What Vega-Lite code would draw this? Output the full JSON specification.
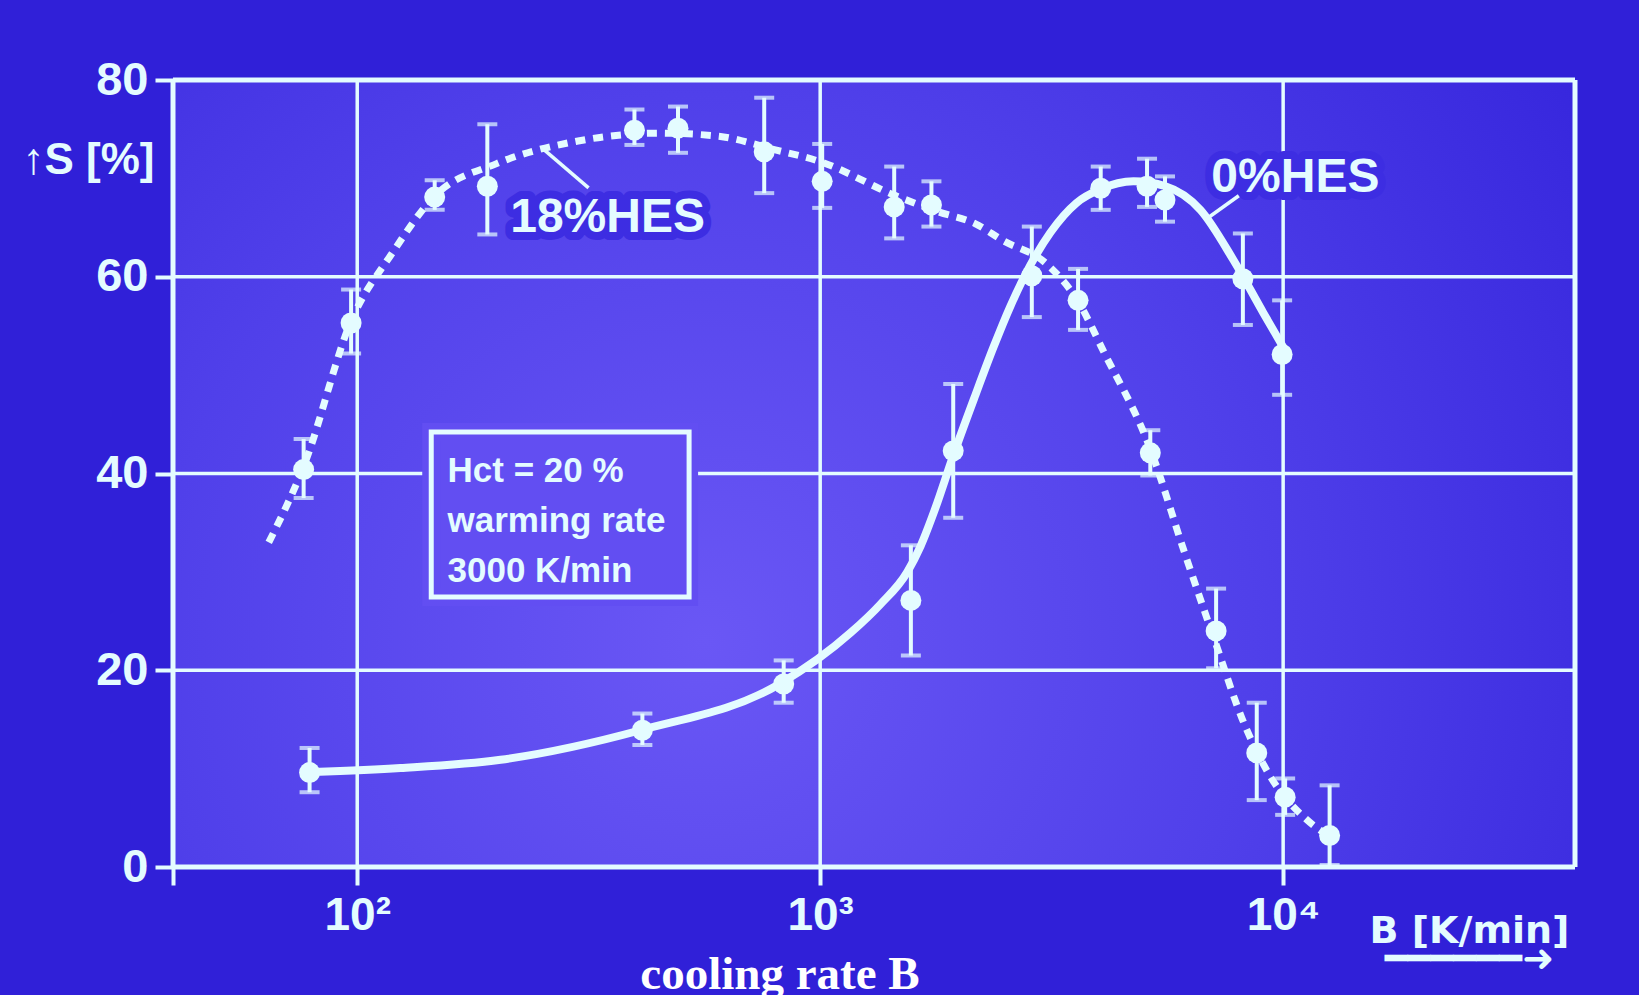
{
  "$schema": "https://vega.github.io/schema/vega-lite/v6.json",
  "width": 1402,
  "height": 787,
  "autosize": {"type": "none"},
  "padding": {"left": 173, "top": 80, "right": 64, "bottom": 128},
  "background": "#3020d8",
  "config": {"view": {"stroke": null}},
  "resolve": {"axis": {"x": "independent", "y": "independent"}},
  "title": {"text": "cooling rate B", "orient": "bottom", "frame": "group", "anchor": "middle", "dx": -94, "offset": -26, "font": "Liberation Serif", "fontSize": 47, "fontWeight": "bold", "color": "#ffffff"},
  "datasets": {
    "bg": [{"x1": 40, "x2": 42700, "y1": 0, "y2": 80}],
    "vgrid": [{"x": 100}, {"x": 1000}, {"x": 10000}],
    "hgrid": [{"y": 20}, {"y": 40}, {"y": 60}],
    "vframe": [{"x": 40}, {"x": 42700}],
    "hframe": [{"y": 0}, {"y": 80}],
    "box": [{"x1": 144.5, "x2": 521, "y1": 27.45, "y2": 44.22}],
    "boxtext": [
      {"x": 156.7, "y": 39.14, "t": "Hct = 20 %"},
      {"x": 156.7, "y": 34.05, "t": "warming rate"},
      {"x": 156.7, "y": 28.97, "t": "3000 K/min"}
    ],
    "labels": [
      {"x": 214, "y": 64.55, "t": "18%HES"},
      {"x": 6997, "y": 68.61, "t": "0%HES"}
    ],
    "leaders": [
      {"x": 252, "y": 73.0, "x2": 316, "y2": 69.04},
      {"x": 8020, "y": 68.23, "x2": 6920, "y2": 66.07}
    ],
    "curve18": [
      {"x": 64.4, "y": 33}, {"x": 77, "y": 41}, {"x": 97, "y": 55.5}, {"x": 119, "y": 62.4},
      {"x": 147, "y": 68.2}, {"x": 200, "y": 71.5}, {"x": 300, "y": 73.8}, {"x": 450, "y": 74.6},
      {"x": 600, "y": 74.3}, {"x": 800, "y": 72.9}, {"x": 1000, "y": 71.7}, {"x": 1445, "y": 68.3},
      {"x": 1800, "y": 66.6}, {"x": 2160, "y": 65.4}, {"x": 2478, "y": 63.7}, {"x": 3085, "y": 61.3},
      {"x": 3606, "y": 57.5}, {"x": 4105, "y": 52.3}, {"x": 5165, "y": 42.5}, {"x": 6120, "y": 32},
      {"x": 7165, "y": 22.6}, {"x": 8150, "y": 15.1}, {"x": 9440, "y": 9}, {"x": 11130, "y": 5}, {"x": 12600, "y": 3.1}
    ],
    "curve0": [
      {"x": 80.1, "y": 9.66}, {"x": 124, "y": 10.06}, {"x": 204, "y": 10.9}, {"x": 409, "y": 13.9},
      {"x": 817, "y": 18.6}, {"x": 1163, "y": 23.8}, {"x": 1349, "y": 26.7}, {"x": 1543, "y": 30.0},
      {"x": 1647, "y": 32.6}, {"x": 1774, "y": 36.5}, {"x": 1931, "y": 41.6}, {"x": 2165, "y": 48.0},
      {"x": 2366, "y": 52.8}, {"x": 2575, "y": 57.0}, {"x": 2846, "y": 61.2}, {"x": 3143, "y": 64.5},
      {"x": 3578, "y": 67.5}, {"x": 4030, "y": 68.9}, {"x": 4750, "y": 69.7}, {"x": 5570, "y": 69.2},
      {"x": 6627, "y": 66.8}, {"x": 7810, "y": 61.7}, {"x": 9070, "y": 56.3}, {"x": 10070, "y": 52.6}
    ],
    "pts": [
      {"series": "18%HES", "x": 76.6, "y": 40.4, "lo": 37.5, "hi": 43.5},
      {"series": "18%HES", "x": 97, "y": 55.3, "lo": 52.2, "hi": 58.7},
      {"series": "18%HES", "x": 147, "y": 68.1, "lo": 66.8, "hi": 69.8},
      {"series": "18%HES", "x": 191, "y": 69.2, "lo": 64.3, "hi": 75.5},
      {"series": "18%HES", "x": 397, "y": 74.9, "lo": 73.4, "hi": 77.0},
      {"series": "18%HES", "x": 493, "y": 75.1, "lo": 72.6, "hi": 77.3},
      {"series": "18%HES", "x": 757, "y": 72.7, "lo": 68.5, "hi": 78.2},
      {"series": "18%HES", "x": 1010, "y": 69.7, "lo": 67.0, "hi": 73.5},
      {"series": "18%HES", "x": 1445, "y": 67.1, "lo": 63.9, "hi": 71.2},
      {"series": "18%HES", "x": 1739, "y": 67.3, "lo": 65.1, "hi": 69.7},
      {"series": "18%HES", "x": 3606, "y": 57.6, "lo": 54.6, "hi": 60.8},
      {"series": "18%HES", "x": 5165, "y": 42.1, "lo": 39.8, "hi": 44.4},
      {"series": "18%HES", "x": 7165, "y": 24.0, "lo": 20.2, "hi": 28.3},
      {"series": "18%HES", "x": 8770, "y": 11.6, "lo": 6.8, "hi": 16.7},
      {"series": "18%HES", "x": 10100, "y": 7.1, "lo": 5.3, "hi": 9.0},
      {"series": "18%HES", "x": 12600, "y": 3.2, "lo": 0.2, "hi": 8.3},
      {"series": "0%HES", "x": 78.9, "y": 9.6, "lo": 7.6, "hi": 12.1},
      {"series": "0%HES", "x": 413, "y": 13.9, "lo": 12.4, "hi": 15.6},
      {"series": "0%HES", "x": 834, "y": 18.6, "lo": 16.7, "hi": 21.0},
      {"series": "0%HES", "x": 1570, "y": 27.1, "lo": 21.5, "hi": 32.7},
      {"series": "0%HES", "x": 1938, "y": 42.3, "lo": 35.5, "hi": 49.1},
      {"series": "0%HES", "x": 2865, "y": 60.1, "lo": 55.9, "hi": 65.1},
      {"series": "0%HES", "x": 4036, "y": 69.0, "lo": 66.8, "hi": 71.2},
      {"series": "0%HES", "x": 5082, "y": 69.2, "lo": 67.1, "hi": 72.0},
      {"series": "0%HES", "x": 5556, "y": 67.8, "lo": 65.6, "hi": 70.2},
      {"series": "0%HES", "x": 8185, "y": 59.8, "lo": 55.1, "hi": 64.4},
      {"series": "0%HES", "x": 9950, "y": 52.1, "lo": 48.0, "hi": 57.6}
    ]
  },
  "layer": [
    {
      "data": {"name": "bg"},
      "mark": {"type": "rect", "fill": {"gradient": "radial", "x1": 0.38, "y1": 0.62, "r1": 0, "x2": 0.38, "y2": 0.62, "r2": 0.78, "stops": [{"offset": 0, "color": "#6a57f5"}, {"offset": 0.5, "color": "#5040ea"}, {"offset": 1, "color": "#3424dc"}]}},
      "encoding": {
        "x": {"field": "x1", "type": "quantitative", "scale": {"type": "log", "domain": [40, 42700], "nice": false},
          "axis": {"orient": "bottom", "values": [40, 100, 1000, 10000], "labelExpr": "datum.value == 100 ? '10²' : datum.value == 1000 ? '10³' : datum.value == 10000 ? '10⁴' : ''", "grid": false, "domain": false, "ticks": true, "tickSize": 18, "tickWidth": 4, "tickColor": "#e4fcff", "labelFont": "Liberation Sans", "labelFontSize": 46, "labelFontWeight": "bold", "labelColor": "#e4fcff", "labelPadding": 8, "labelFlush": false, "labelOverlap": false, "labelBound": false,
            "title": ["B [K/min]", "━━━━━━➜"], "titleX": 1296, "titleY": 45, "titleAlign": "center", "titleBaseline": "top", "titleFont": "DejaVu Sans", "titleFontSize": 38, "titleFontWeight": "bold", "titleColor": "#e4fcff", "titleLineHeight": 28}},
        "x2": {"field": "x2"},
        "y": {"field": "y1", "type": "quantitative", "scale": {"domain": [0, 80], "nice": false},
          "axis": {"orient": "left", "values": [0, 20, 40, 60, 80], "grid": false, "domain": false, "ticks": true, "tickSize": 18, "tickWidth": 4, "tickColor": "#e4fcff", "labelFont": "Liberation Sans", "labelFontSize": 47, "labelFontWeight": "bold", "labelColor": "#e4fcff", "labelPadding": 7, "labelFlush": false, "labelOverlap": false,
            "title": "↑S [%]", "titleAngle": 0, "titleX": -151, "titleY": 80, "titleAlign": "left", "titleBaseline": "middle", "titleFont": "Liberation Sans", "titleFontSize": 44, "titleFontWeight": "bold", "titleColor": "#e4fcff"}},
        "y2": {"field": "y2"}
      }
    },
    {
      "data": {"name": "vgrid"},
      "mark": {"type": "rule", "color": "#e4fcff", "strokeWidth": 3.5},
      "encoding": {"x": {"field": "x", "type": "quantitative", "scale": {"type": "log", "domain": [40, 42700], "nice": false}, "axis": null}}
    },
    {
      "data": {"name": "hgrid"},
      "mark": {"type": "rule", "color": "#e4fcff", "strokeWidth": 3.5},
      "encoding": {"y": {"field": "y", "type": "quantitative", "scale": {"domain": [0, 80], "nice": false}, "axis": null}}
    },
    {
      "data": {"name": "vframe"},
      "mark": {"type": "rule", "color": "#e4fcff", "strokeWidth": 5},
      "encoding": {"x": {"field": "x", "type": "quantitative", "scale": {"type": "log", "domain": [40, 42700], "nice": false}, "axis": null}}
    },
    {
      "data": {"name": "hframe"},
      "mark": {"type": "rule", "color": "#e4fcff", "strokeWidth": 5},
      "encoding": {"y": {"field": "y", "type": "quantitative", "scale": {"domain": [0, 80], "nice": false}, "axis": null}}
    },
    {
      "data": {"name": "box"},
      "mark": {"type": "rect", "fill": "#624ef2", "stroke": "#624ef2", "strokeWidth": 18},
      "encoding": {
        "x": {"field": "x1", "type": "quantitative", "scale": {"type": "log", "domain": [40, 42700], "nice": false}, "axis": null},
        "x2": {"field": "x2"},
        "y": {"field": "y1", "type": "quantitative", "scale": {"domain": [0, 80], "nice": false}, "axis": null},
        "y2": {"field": "y2"}
      }
    },
    {
      "data": {"name": "labels"},
      "mark": {"type": "text", "align": "left", "baseline": "alphabetic", "font": "Liberation Sans", "fontWeight": "bold", "fontSize": 48, "color": "#3d2de2", "stroke": "#3d2de2", "strokeWidth": 16, "strokeJoin": "round"},
      "encoding": {
        "x": {"field": "x", "type": "quantitative", "scale": {"type": "log", "domain": [40, 42700], "nice": false}, "axis": null},
        "y": {"field": "y", "type": "quantitative", "scale": {"domain": [0, 80], "nice": false}, "axis": null},
        "text": {"field": "t"}
      }
    },
    {
      "data": {"name": "box"},
      "mark": {"type": "rect", "filled": false, "color": "#e4fcff", "strokeWidth": 5},
      "encoding": {
        "x": {"field": "x1", "type": "quantitative", "scale": {"type": "log", "domain": [40, 42700], "nice": false}, "axis": null},
        "x2": {"field": "x2"},
        "y": {"field": "y1", "type": "quantitative", "scale": {"domain": [0, 80], "nice": false}, "axis": null},
        "y2": {"field": "y2"}
      }
    },
    {
      "data": {"name": "boxtext"},
      "mark": {"type": "text", "align": "left", "baseline": "alphabetic", "font": "Liberation Sans", "fontWeight": "bold", "fontSize": 35, "color": "#e4fcff"},
      "encoding": {
        "x": {"field": "x", "type": "quantitative", "scale": {"type": "log", "domain": [40, 42700], "nice": false}, "axis": null},
        "y": {"field": "y", "type": "quantitative", "scale": {"domain": [0, 80], "nice": false}, "axis": null},
        "text": {"field": "t"}
      }
    },
    {
      "data": {"name": "curve18"},
      "mark": {"type": "line", "color": "#e4fcff", "strokeWidth": 7, "strokeDash": [10, 8], "interpolate": "monotone"},
      "encoding": {
        "x": {"field": "x", "type": "quantitative", "scale": {"type": "log", "domain": [40, 42700], "nice": false}, "axis": null},
        "y": {"field": "y", "type": "quantitative", "scale": {"domain": [0, 80], "nice": false}, "axis": null}
      }
    },
    {
      "data": {"name": "curve0"},
      "mark": {"type": "line", "color": "#e4fcff", "strokeWidth": 8, "interpolate": "monotone"},
      "encoding": {
        "x": {"field": "x", "type": "quantitative", "scale": {"type": "log", "domain": [40, 42700], "nice": false}, "axis": null},
        "y": {"field": "y", "type": "quantitative", "scale": {"domain": [0, 80], "nice": false}, "axis": null}
      }
    },
    {
      "data": {"name": "pts"},
      "mark": {"type": "errorbar", "color": "#e4fcff", "ticks": {"size": 20, "thickness": 4, "color": "#e4fcff"}, "rule": {"strokeWidth": 4, "color": "#e4fcff"}},
      "encoding": {
        "x": {"field": "x", "type": "quantitative", "scale": {"type": "log", "domain": [40, 42700], "nice": false}, "axis": null},
        "y": {"field": "lo", "type": "quantitative", "scale": {"domain": [0, 80], "nice": false}, "axis": null},
        "y2": {"field": "hi"}
      }
    },
    {
      "data": {"name": "pts"},
      "mark": {"type": "point", "filled": true, "opacity": 1, "size": 440, "color": "#e4fcff"},
      "encoding": {
        "x": {"field": "x", "type": "quantitative", "scale": {"type": "log", "domain": [40, 42700], "nice": false}, "axis": null},
        "y": {"field": "y", "type": "quantitative", "scale": {"domain": [0, 80], "nice": false}, "axis": null}
      }
    },
    {
      "data": {"name": "leaders"},
      "mark": {"type": "rule", "color": "#e4fcff", "strokeWidth": 3.5},
      "encoding": {
        "x": {"field": "x", "type": "quantitative", "scale": {"type": "log", "domain": [40, 42700], "nice": false}, "axis": null},
        "x2": {"field": "x2"},
        "y": {"field": "y", "type": "quantitative", "scale": {"domain": [0, 80], "nice": false}, "axis": null},
        "y2": {"field": "y2"}
      }
    },
    {
      "data": {"name": "labels"},
      "mark": {"type": "text", "align": "left", "baseline": "alphabetic", "font": "Liberation Sans", "fontWeight": "bold", "fontSize": 48, "color": "#e4fcff"},
      "encoding": {
        "x": {"field": "x", "type": "quantitative", "scale": {"type": "log", "domain": [40, 42700], "nice": false}, "axis": null},
        "y": {"field": "y", "type": "quantitative", "scale": {"domain": [0, 80], "nice": false}, "axis": null},
        "text": {"field": "t"}
      }
    }
  ]
}
